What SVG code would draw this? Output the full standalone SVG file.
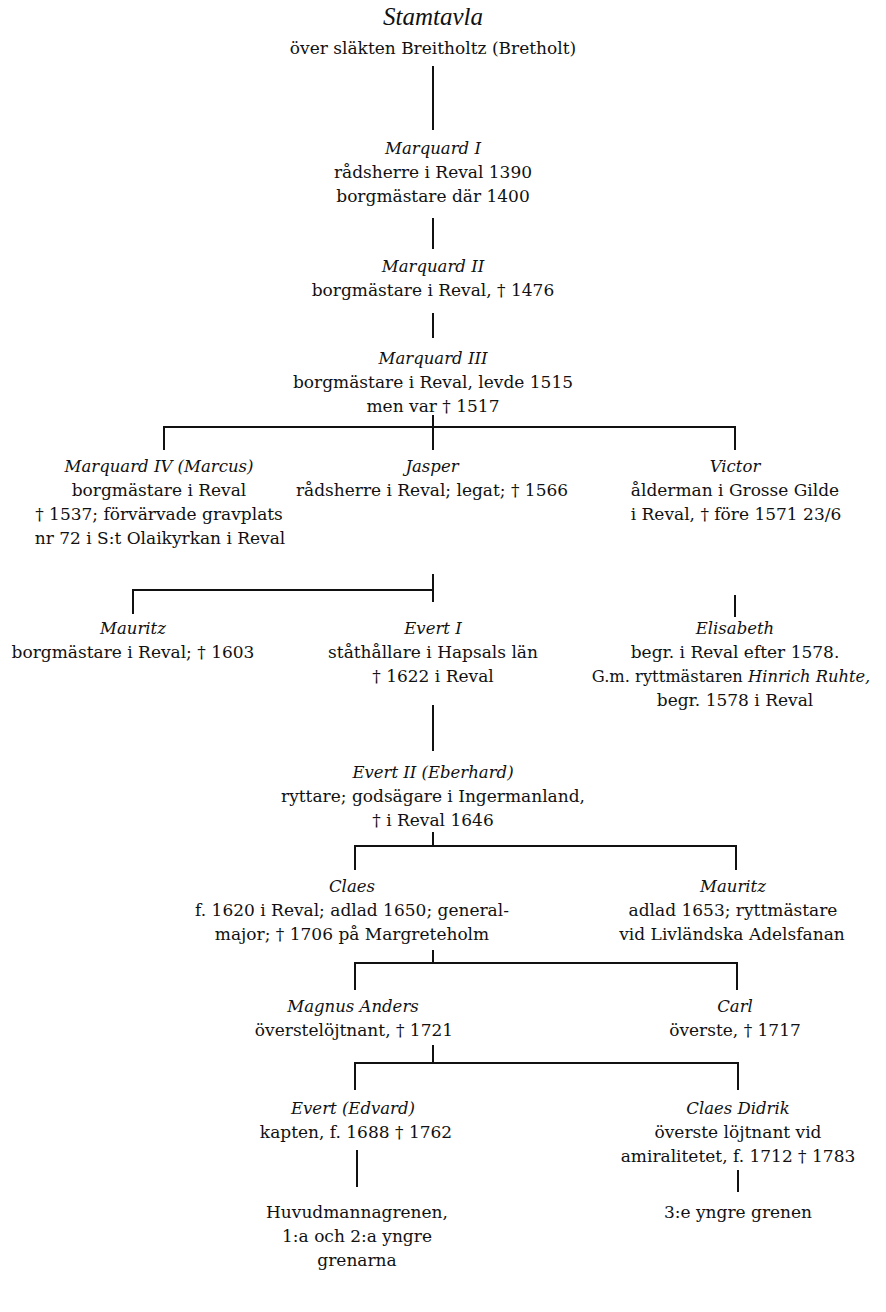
<svg xmlns="http://www.w3.org/2000/svg" width="886" height="1312" viewBox="0 0 886 1312">
<style>
text{font-family:"DejaVu Serif","Liberation Serif",serif;fill:#111;text-anchor:middle;font-size:17px}
.n{font-style:italic;font-size:16.5px}
.t{font-family:"Liberation Serif","Times New Roman",serif;font-style:italic;font-size:25px}
.s{font-size:16.3px}
.c line,.c path{stroke:#111;stroke-width:2;fill:none}
</style>
<rect width="886" height="1312" fill="#fff"/>
<g id="title">
<text class="t" x="433" y="25">Stamtavla</text>
<text x="433" y="54">över släkten Breitholtz (Bretholt)</text>
</g>
<g class="c" id="connectors">
<line x1="433" y1="66" x2="433" y2="130"/>
<line x1="433" y1="218" x2="433" y2="249"/>
<line x1="433" y1="313" x2="433" y2="338"/>
<line x1="433" y1="415" x2="433" y2="450"/>
<path d="M164 450V427H735V450"/>
<line x1="433" y1="574" x2="433" y2="602"/>
<path d="M133 614V590H433"/>
<line x1="735" y1="595" x2="735" y2="617"/>
<line x1="433" y1="705" x2="433" y2="751"/>
<line x1="433" y1="832" x2="433" y2="846"/>
<path d="M355 870V846H736V870"/>
<line x1="433" y1="950" x2="433" y2="963"/>
<path d="M355 990V963H737V990"/>
<line x1="433" y1="1045" x2="433" y2="1063"/>
<path d="M355 1090V1063H738V1090"/>
<line x1="357" y1="1150" x2="357" y2="1187"/>
<line x1="738" y1="1170" x2="738" y2="1192"/>
</g>
<g id="marquard1">
<text class="n" x="433" y="154">Marquard I</text>
<text x="433" y="178">rådsherre i Reval 1390</text>
<text x="433" y="202">borgmästare där 1400</text>
</g>
<g id="marquard2">
<text class="n" x="433" y="272">Marquard II</text>
<text x="433" y="296">borgmästare i Reval, † 1476</text>
</g>
<g id="marquard3">
<text class="n" x="433" y="364">Marquard III</text>
<text x="433" y="388">borgmästare i Reval, levde 1515</text>
<text x="433" y="412">men var † 1517</text>
</g>
<g id="marquard4">
<text class="n" x="159" y="472">Marquard IV (Marcus)</text>
<text x="159" y="496">borgmästare i Reval</text>
<text x="159" y="520">† 1537; förvärvade gravplats</text>
<text x="160" y="544">nr 72 i S:t Olaikyrkan i Reval</text>
</g>
<g id="jasper">
<text class="n" x="432" y="472">Jasper</text>
<text x="432" y="496">rådsherre i Reval; legat; † 1566</text>
</g>
<g id="victor">
<text class="n" x="735" y="472">Victor</text>
<text x="735" y="496">ålderman i Grosse Gilde</text>
<text x="736" y="520">i Reval, † före 1571 23/6</text>
</g>
<g id="mauritz1">
<text class="n" x="133" y="634">Mauritz</text>
<text x="133" y="658">borgmästare i Reval; † 1603</text>
</g>
<g id="evert1">
<text class="n" x="433" y="634">Evert I</text>
<text x="433" y="658">ståthållare i Hapsals län</text>
<text x="433" y="682">† 1622 i Reval</text>
</g>
<g id="elisabeth">
<text class="n" x="735" y="634">Elisabeth</text>
<text x="735" y="658">begr. i Reval efter 1578.</text>
<text class="s" x="731" y="682">G.m. ryttmästaren <tspan font-style="italic">Hinrich Ruhte,</tspan></text>
<text x="735" y="706">begr. 1578 i Reval</text>
</g>
<g id="evert2">
<text class="n" x="433" y="778">Evert II (Eberhard)</text>
<text x="433" y="802">ryttare; godsägare i Ingermanland,</text>
<text x="433" y="826">† i Reval 1646</text>
</g>
<g id="claes">
<text class="n" x="352" y="892">Claes</text>
<text x="352" y="916">f. 1620 i Reval; adlad 1650; general-</text>
<text x="352" y="940">major; † 1706 på Margreteholm</text>
</g>
<g id="mauritz2">
<text class="n" x="733" y="892">Mauritz</text>
<text x="733" y="916">adlad 1653; ryttmästare</text>
<text x="732" y="940">vid Livländska Adelsfanan</text>
</g>
<g id="magnus">
<text class="n" x="353" y="1012">Magnus Anders</text>
<text x="354" y="1036">överstelöjtnant, † 1721</text>
</g>
<g id="carl">
<text class="n" x="735" y="1012">Carl</text>
<text x="735" y="1036">överste, † 1717</text>
</g>
<g id="evert3">
<text class="n" x="353" y="1114">Evert (Edvard)</text>
<text x="356" y="1138">kapten, f. 1688 † 1762</text>
</g>
<g id="claesdidrik">
<text class="n" x="738" y="1114">Claes Didrik</text>
<text x="738" y="1138">överste löjtnant vid</text>
<text x="738" y="1162">amiralitetet, f. 1712 † 1783</text>
</g>
<g id="huvudmanna">
<text x="357" y="1218">Huvudmannagrenen,</text>
<text x="357" y="1242">1:a och 2:a yngre</text>
<text x="357" y="1266">grenarna</text>
</g>
<g id="yngre3">
<text x="738" y="1218">3:e yngre grenen</text>
</g>
</svg>
